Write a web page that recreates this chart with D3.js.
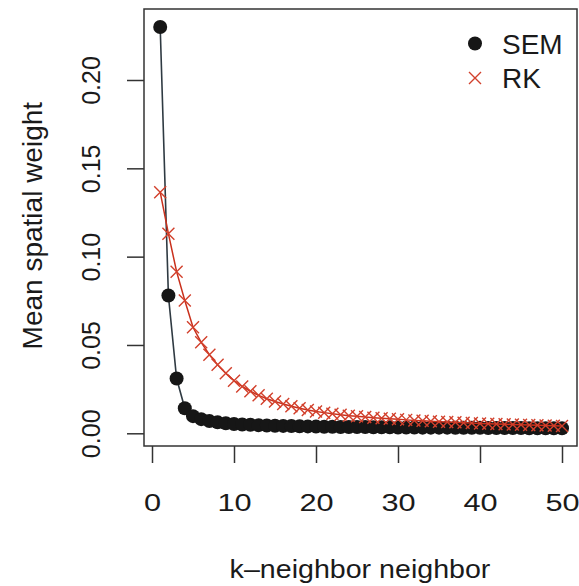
<!DOCTYPE html>
<html>
<head>
<meta charset="utf-8">
<script src="https://cdn.jsdelivr.net/npm/d3@7"></script>
<style>
  html, body { margin: 0; padding: 0; background: #fff; }
  svg { display: block; }
  text { font-family: "Liberation Sans", Arial, Helvetica, sans-serif; fill: #1a1a1a; }
</style>
</head>
<body>
<svg id="chart" width="579" height="586"></svg>
<script>
// Neighbour rank k = 1..50
const kValues = d3.range(1, 51);

// Mean spatial weight given to the k-th nearest neighbour, spatial error model
const semWeights = [
  0.2300, 0.0780, 0.0310, 0.0142, 0.0097, 0.0080, 0.0069, 0.0062, 0.0057, 0.0053,
  0.0050, 0.0048, 0.0046, 0.0044, 0.0043, 0.0042, 0.0041, 0.0040, 0.0039, 0.0038,
  0.0037, 0.0037, 0.0036, 0.0036, 0.0035, 0.0035, 0.0034, 0.0034, 0.0034, 0.0033,
  0.0033, 0.0033, 0.0032, 0.0032, 0.0032, 0.0032, 0.0031, 0.0031, 0.0031, 0.0031,
  0.0030, 0.0030, 0.0030, 0.0030, 0.0030, 0.0029, 0.0029, 0.0029, 0.0029, 0.0029
];

// Mean spatial weight given to the k-th nearest neighbour, regression kriging
const rkWeights = [
  0.1365, 0.1130, 0.0915, 0.0752, 0.0600, 0.0515, 0.0445, 0.0388, 0.0340, 0.0298,
  0.0265, 0.0238, 0.0215, 0.0196, 0.0180, 0.0166, 0.0153, 0.0142, 0.0132, 0.0124,
  0.0117, 0.0111, 0.0105, 0.0100, 0.0096, 0.0092, 0.0088, 0.0085, 0.0082, 0.0079,
  0.0076, 0.0073, 0.0071, 0.0068, 0.0066, 0.0064, 0.0062, 0.0060, 0.0058, 0.0056,
  0.0054, 0.0053, 0.0051, 0.0050, 0.0048, 0.0047, 0.0046, 0.0044, 0.0043, 0.0042
];

const xTicks = [0, 10, 20, 30, 40, 50];
const yTicks = [0.00, 0.05, 0.10, 0.15, 0.20];
const seriesNames = ["SEM", "RK"];

const svg = d3.select("#chart");

// plot region (box) and data ranges
const box = { left: 144, top: 9, right: 577, bottom: 446 };
const x = d3.scaleLinear().domain([0, 50]).range([152, 562]);
const y = d3.scaleLinear().domain([0, 0.2]).range([433.3, 80]);

const semColor = "#161616";
const semLine = "#2f3a42";
const rkColor = "#d2402c";
const rkLine = "#c9301c";

// frame
svg.append("rect")
  .attr("x", box.left).attr("y", box.top)
  .attr("width", box.right - box.left).attr("height", box.bottom - box.top)
  .attr("fill", "none").attr("stroke", "#333").attr("stroke-width", 1.5);

// x axis (labels slightly widened)
const xAxis = svg.append("g")
  .attr("transform", `translate(0,${box.bottom})`)
  .call(d3.axisBottom(x).tickValues(xTicks).tickSize(17).tickPadding(31).tickFormat(d3.format("d")));
xAxis.select(".domain").remove();
xAxis.selectAll(".tick line").attr("stroke", "#333").attr("stroke-width", 1.5);
xAxis.selectAll(".tick text")
  .attr("transform", "scale(1.28,1)")
  .attr("font-size", 24).attr("font-family", "Liberation Sans, Arial, sans-serif").attr("fill", "#1a1a1a");

// y axis with rotated labels
const yAxis = svg.append("g")
  .attr("transform", `translate(${box.left},0)`)
  .call(d3.axisLeft(y).tickValues(yTicks).tickSize(17).tickFormat(d3.format(".2f")));
yAxis.select(".domain").remove();
yAxis.selectAll(".tick line").attr("stroke", "#333").attr("stroke-width", 1.5);
yAxis.selectAll(".tick text")
  .attr("x", null).attr("dy", null)
  .attr("text-anchor", "middle")
  .attr("transform", "translate(-44,0) rotate(-90)")
  .attr("font-size", 25).attr("font-family", "Liberation Sans, Arial, sans-serif").attr("fill", "#1a1a1a");

// axis titles
svg.append("text")
  .attr("transform", `translate(${(box.left + box.right) / 2 - 0.5},578) scale(1.1,1)`)
  .attr("text-anchor", "middle")
  .attr("font-size", 26)
  .text("k\u2013neighbor neighbor");

svg.append("text")
  .attr("transform", `translate(42,${(80 + 433.3) / 2 - 31}) rotate(-90)`)
  .attr("text-anchor", "middle")
  .attr("font-size", 28)
  .text("Mean spatial weight");

const plot = svg.append("g");

const line = (vals) => d3.line().x((d, i) => x(kValues[i])).y(d => y(d))(vals);

// SEM: line then filled circles
plot.append("path")
  .attr("d", line(semWeights))
  .attr("fill", "none").attr("stroke", semLine).attr("stroke-width", 1.6);
plot.selectAll("circle.sem")
  .data(semWeights)
  .join("circle")
  .attr("class", "sem")
  .attr("cx", (d, i) => x(kValues[i]))
  .attr("cy", d => y(d))
  .attr("r", 7)
  .attr("fill", semColor);

// RK: line then x markers
plot.append("path")
  .attr("d", line(rkWeights))
  .attr("fill", "none").attr("stroke", rkLine).attr("stroke-width", 1.5);
const cross = 6;
plot.selectAll("path.rk")
  .data(rkWeights)
  .join("path")
  .attr("class", "rk")
  .attr("d", (d, i) => {
    const cx = x(kValues[i]), cy = y(d);
    return `M${cx - cross},${cy - cross}L${cx + cross},${cy + cross}M${cx - cross},${cy + cross}L${cx + cross},${cy - cross}`;
  })
  .attr("fill", "none").attr("stroke", rkColor).attr("stroke-width", 1.4);

// legend
const legend = svg.append("g");
legend.append("circle").attr("cx", 475).attr("cy", 43.5).attr("r", 7).attr("fill", semColor);
legend.append("path")
  .attr("d", `M${475 - cross},${78 - cross}L${475 + cross},${78 + cross}M${475 - cross},${78 + cross}L${475 + cross},${78 - cross}`)
  .attr("fill", "none").attr("stroke", rkColor).attr("stroke-width", 1.4);
legend.selectAll("text.leg")
  .data(seriesNames)
  .join("text")
  .attr("class", "leg")
  .attr("x", 502)
  .attr("y", (d, i) => 54 + i * 34)
  .attr("font-size", 28)
  .text(d => d);
</script>
</body>
</html>
